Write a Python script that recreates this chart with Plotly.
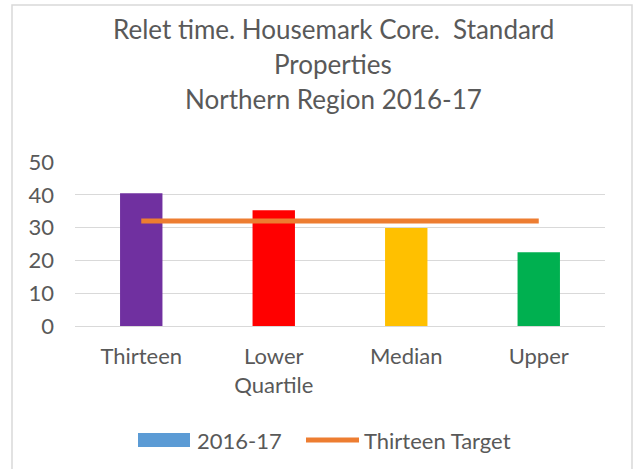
import plotly.graph_objects as go

categories = ["Thirteen", "Lower<br>Quartile", "Median", "Upper"]
relet_2016_17 = [40.5, 35.3, 29.9, 22.5]
thirteen_target = [32, 32, 32, 32]
bar_colors = ["#7030A0", "#FF0000", "#FFC000", "#00B050"]
y_ticks = [0, 10, 20, 30, 40, 50]
title_lines = ["Relet time. Housemark Core.  Standard", "Properties", "Northern Region 2016-17"]
legend_names = ["2016-17", "Thirteen Target"]

FONT = "Lato"
GREY = "#595959"

fig = go.Figure()
fig.add_trace(go.Bar(x=categories, y=relet_2016_17, marker=dict(color=bar_colors, line=dict(width=0)),
                     width=0.32, name=legend_names[0], showlegend=False))
fig.add_trace(go.Scatter(x=categories, y=thirteen_target, mode="lines",
                         line=dict(color="#ED7D31", width=5), name=legend_names[1], showlegend=False))

W, H = 639, 469
L, R, T, B = 75, 34, 162, 143
pw, ph = W - L - R, H - T - B

def px(x):
    return (x - L) / pw

def py(y):
    return (H - B - y) / ph

shapes = [
    dict(type="rect", xref="paper", yref="paper", x0=px(12), x1=px(632), y0=py(5), y1=py(480),
         line=dict(color="#D9D9D9", width=1.5), fillcolor="rgba(0,0,0,0)", layer="below"),
    dict(type="rect", xref="paper", yref="paper", x0=px(138), x1=px(190), y0=py(447), y1=py(433),
         line=dict(width=0), fillcolor="#5B9BD5"),
    dict(type="line", xref="paper", yref="paper", x0=px(306), x1=px(359), y0=py(440), y1=py(440),
         line=dict(color="#ED7D31", width=5)),
]

annotations = []
for t, yc in zip(title_lines, [29, 64, 99]):
    annotations.append(dict(text=t, xref="paper", yref="paper", x=px(333), y=py(yc), xanchor="center",
                            yanchor="middle", showarrow=False, font=dict(family=FONT, size=26, color=GREY)))
annotations.append(dict(text=legend_names[0], xref="paper", yref="paper", x=px(195), y=py(440), xanchor="left",
                        yanchor="middle", showarrow=False, font=dict(family=FONT, size=22, color=GREY)))
annotations.append(dict(text=legend_names[1], xref="paper", yref="paper", x=px(362), y=py(440), xanchor="left",
                        yanchor="middle", showarrow=False, font=dict(family=FONT, size=22, color=GREY)))

fig.update_layout(
    width=W, height=H,
    margin=dict(l=L, r=R, t=T, b=B, pad=0),
    paper_bgcolor="white", plot_bgcolor="white",
    font=dict(family=FONT, size=22, color=GREY),
    showlegend=False,
    shapes=shapes,
    annotations=annotations,
)
fig.update_xaxes(showgrid=False, showline=False, ticks="", tickfont=dict(family=FONT, size=22, color=GREY),
                 ticklabelstandoff=15)
fig.update_yaxes(range=[0, 50], tickvals=y_ticks, showgrid=True, gridcolor="#D9D9D9", gridwidth=1,
                 zeroline=True, zerolinecolor="#D9D9D9", zerolinewidth=1, showline=False, ticks="",
                 tickfont=dict(family=FONT, size=22, color=GREY), ticklabelstandoff=20)

fig.write_html("out.html", config={"displayModeBar": False},
               post_script="document.body.style.margin='0px';document.body.style.overflow='hidden';")
